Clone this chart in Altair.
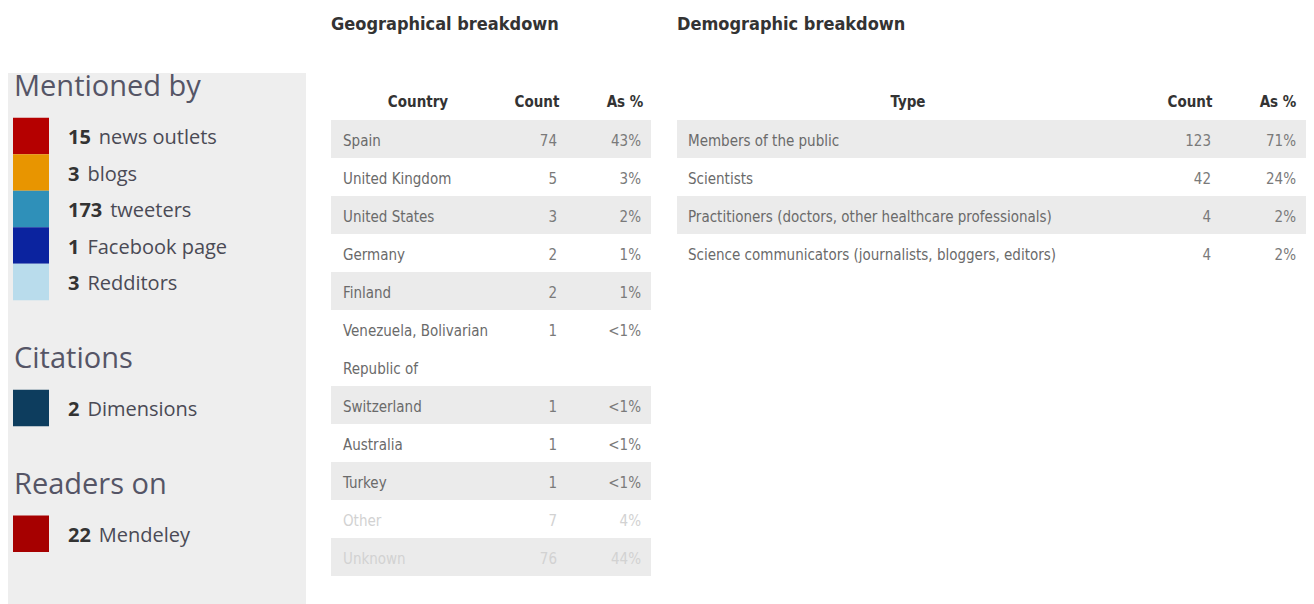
import textwrap
import altair as alt
import pandas as pd

# ---------------- data ----------------
mention_title = "Mentioned by"
mention_sources = ["news outlets", "blogs", "tweeters", "Facebook page", "Redditors"]
mention_counts = [15, 3, 173, 1, 3]
mention_colors = ["#b50000", "#e89500", "#2f90b9", "#0b239f", "#b9dcec"]

citation_title = "Citations"
citation_sources = ["Dimensions"]
citation_counts = [2]
citation_colors = ["#0d3d5e"]

reader_title = "Readers on"
reader_sources = ["Mendeley"]
reader_counts = [22]
reader_colors = ["#a60000"]

geo_title = "Geographical breakdown"
geo_headers = ["Country", "Count", "As %"]
geo_countries = ["Spain", "United Kingdom", "United States", "Germany", "Finland",
                 "Venezuela, Bolivarian Republic of", "Switzerland", "Australia",
                 "Turkey", "Other", "Unknown"]
geo_counts = [74, 5, 3, 2, 2, 1, 1, 1, 1, 7, 76]
geo_pcts = ["43%", "3%", "2%", "1%", "1%", "<1%", "<1%", "<1%", "<1%", "4%", "44%"]
geo_muted = ["Other", "Unknown"]

demo_title = "Demographic breakdown"
demo_headers = ["Type", "Count", "As %"]
demo_types = ["Members of the public", "Scientists",
              "Practitioners (doctors, other healthcare professionals)",
              "Science communicators (journalists, bloggers, editors)"]
demo_counts = [123, 42, 4, 4]
demo_pcts = ["71%", "24%", "2%", "2%"]

# ---------------- styles ----------------
PANEL_H = 596
SANS = "Open Sans"
NARROW = "DejaVu Sans Condensed, Liberation Sans Narrow, sans-serif"
STRIPE = "#ebebeb"

# ---------------- left panel ----------------
TITLE_GAP = 1.37
SECTION_GAP = 2.08
sections = [
    (mention_title, mention_sources, mention_counts, mention_colors),
    (citation_title, citation_sources, citation_counts, citation_colors),
    (reader_title, reader_sources, reader_counts, reader_colors),
]
title_rows, item_rows = [], []
cur = -TITLE_GAP
for title, sources, counts, colors in sections:
    title_rows.append({"title": title, "pos": cur})
    cur += TITLE_GAP
    for s, c, col in zip(sources, counts, colors):
        item_rows.append({"source": s, "count": str(c), "color": col, "pos": cur})
        cur += 1
    cur = cur - 1 + SECTION_GAP
titles_df = pd.DataFrame(title_rows)
items_df = pd.DataFrame(item_rows)

lscale = alt.Scale(domain=[0, 1], range=[128, 164.5], nice=False, zero=False)

left_bg = alt.Chart(pd.DataFrame({"k": [0]})).mark_rect(color="#eeeeee").encode(
    x=alt.value(0), x2=alt.value(298), y=alt.value(65), y2=alt.value(PANEL_H)
)
left_sq = alt.Chart(items_df).transform_calculate(
    y0="datum.pos - 0.5", y1="datum.pos + 0.5"
).mark_rect().encode(
    x=alt.value(5), x2=alt.value(41),
    y=alt.Y("y0:Q", scale=lscale, axis=None), y2="y1:Q",
    color=alt.Color("color:N", scale=None),
)
left_num = alt.Chart(items_df).mark_text(
    align="left", baseline="middle", font=SANS, fontSize=20, fontWeight="bold",
    color="#333333", dy=2
).encode(x=alt.value(60), y=alt.Y("pos:Q", scale=lscale, axis=None), text="count:N")
left_lab = alt.Chart(items_df).mark_text(
    align="left", baseline="middle", font=SANS, fontSize=20, color="#4a4a55", dy=2,
    dx={"expr": "length(datum.count) * 11.4 + 8"},
).encode(x=alt.value(60), y=alt.Y("pos:Q", scale=lscale, axis=None), text="source:N")
left_tit = alt.Chart(titles_df).mark_text(
    align="left", baseline="middle", font=SANS, fontSize=29, color="#555566", dy=1
).encode(x=alt.value(6), y=alt.Y("pos:Q", scale=lscale, axis=None), text="title:N")

left = alt.layer(left_bg, left_sq, left_num, left_lab, left_tit).properties(
    width=323, height=PANEL_H
)

# ---------------- tables ----------------
tscale = alt.Scale(domain=[0, 12], range=[93, 549], nice=False, zero=False)


def table_panel(title, headers, labels, counts, pcts, muted, header_x, value_x, table_w, panel_w):
    rows, r = [], 1
    for i, (lab, c, p) in enumerate(zip(labels, counts, pcts)):
        wrapped = textwrap.fill(lab, 22) if 24 < len(lab) <= 34 else lab
        n = wrapped.count("\n") + 1
        rows.append({"label": wrapped, "name": lab, "count": str(c), "pct": p,
                     "idx": i, "row": r, "lines": n, "muted": lab in muted})
        r += n
    df = pd.DataFrame(rows)
    base = alt.Chart(df)
    y = alt.Y("row:Q", scale=tscale, axis=None)
    stripes = base.transform_filter("datum.idx % 2 == 0").transform_calculate(
        y0="datum.row - 0.5", y1="datum.row + datum.lines - 0.5"
    ).mark_rect(color=STRIPE).encode(
        x=alt.value(0), x2=alt.value(table_w),
        y=alt.Y("y0:Q", scale=tscale, axis=None), y2="y1:Q",
    )
    tcolor = alt.condition("datum.muted", alt.value("#d2d2d2"), alt.value("#6a6a6a"))
    ncolor = alt.condition("datum.muted", alt.value("#d2d2d2"), alt.value("#7a7a7a"))
    lab_t = base.mark_text(
        align="left", baseline="middle", font=NARROW, fontSize=15, lineBreak="\n",
        lineHeight=38, dy=2
    ).encode(x=alt.value(value_x[0]), y=y, text="label:N", color=tcolor)
    cnt_t = base.mark_text(
        align="right", baseline="middle", font=NARROW, fontSize=15, dy=2
    ).encode(x=alt.value(value_x[1]), y=y, text="count:N", color=ncolor)
    pct_t = base.mark_text(
        align="right", baseline="middle", font=NARROW, fontSize=15, dy=2
    ).encode(x=alt.value(value_x[2]), y=y, text="pct:N", color=ncolor)
    hdr_layers = []
    for h, hx in zip(headers, header_x):
        hdr_layers.append(
            alt.Chart(pd.DataFrame({"h": [h], "row": [0]})).mark_text(
                align="center", baseline="middle", font=NARROW, fontSize=15,
                fontWeight="bold", color="#333333", dy=1
            ).encode(x=alt.value(hx), y=y, text="h:N")
        )
    ttl = alt.Chart(pd.DataFrame({"t": [title]})).mark_text(
        align="left", baseline="middle", font=NARROW, fontSize=18, fontWeight="bold",
        color="#333333"
    ).encode(x=alt.value(0), y=alt.value(17), text="t:N")
    return alt.layer(stripes, lab_t, cnt_t, pct_t, *hdr_layers, ttl).properties(
        width=panel_w, height=PANEL_H
    )


geo = table_panel(geo_title, geo_headers, geo_countries, geo_counts, geo_pcts, geo_muted,
                  header_x=[87, 206, 294], value_x=[12, 226, 310], table_w=320, panel_w=346)
demo = table_panel(demo_title, demo_headers, demo_types, demo_counts, demo_pcts, [],
                   header_x=[231, 513, 601], value_x=[11, 534, 619], table_w=629, panel_w=629)

chart = alt.hconcat(left, geo, demo, spacing=0).properties(
    padding=0, background="#ffffff"
).configure_view(stroke=None)

chart.save("out.html", embed_options={"renderer": "svg", "actions": False})
